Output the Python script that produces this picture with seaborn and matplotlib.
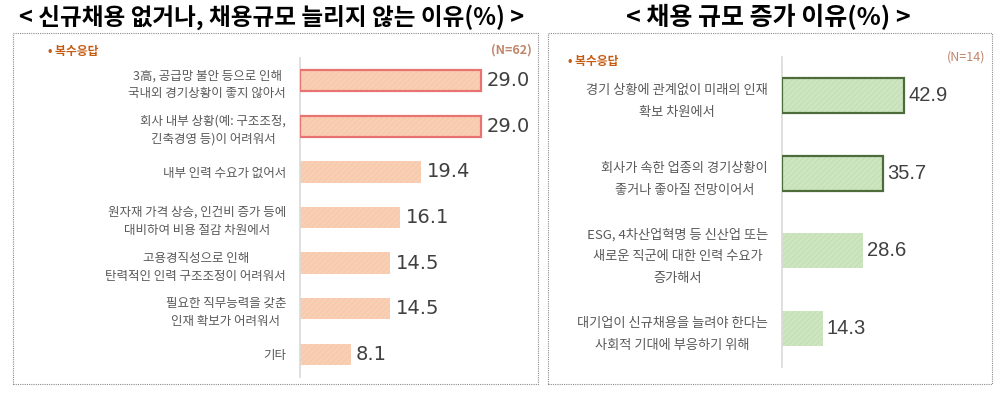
import matplotlib
matplotlib.use("Agg")
import matplotlib.pyplot as plt
import pandas as pd
import seaborn as sns
from matplotlib.patches import Rectangle

# left chart: 신규채용 없거나, 채용규모 늘리지 않는 이유
left_labels = [
    "3高, 공급망 불안 등으로 인해\n국내외 경기상황이 좋지 않아서",
    "회사 내부 상황(예: 구조조정,\n긴축경영 등)이 어려워서",
    "내부 인력 수요가 없어서",
    "원자재 가격 상승, 인건비 증가 등에\n대비하여 비용 절감 차원에서",
    "고용경직성으로 인해\n탄력적인 인력 구조조정이 어려워서",
    "필요한 직무능력을 갖춘\n인재 확보가 어려워서",
    "기타",
]
left_values = [29.0, 29.0, 19.4, 16.1, 14.5, 14.5, 8.1]
left_highlight = [True, True, False, False, False, False, False]

# right chart: 채용 규모 증가 이유
right_labels = [
    "경기 상황에 관계없이 미래의 인재\n확보 차원에서",
    "회사가 속한 업종의 경기상황이\n좋거나 좋아질 전망이어서",
    "ESG, 4차산업혁명 등 신산업 또는\n새로운 직군에 대한 인력 수요가\n증가해서",
    "대기업이 신규채용을 늘려야 한다는\n사회적 기대에 부응하기 위해",
]
right_values = [42.9, 35.7, 28.6, 14.3]
right_highlight = [True, True, False, False]

sns.set_style("white")
plt.rcParams['font.family'] = ['Noto Sans CJK KR', 'DejaVu Sans']
plt.rcParams['hatch.linewidth'] = 0.6

fig = plt.figure(figsize=(10, 3.94), dpi=100)
W, H = 1000, 394


def box(x0, y0, x1, y1):
    # dotted frame around each panel, in pixel coords from the top
    fig.patches.append(Rectangle((x0 / W, 1 - y1 / H), (x1 - x0) / W, (y1 - y0) / H,
                                 transform=fig.transFigure, fill=False,
                                 edgecolor='#8c8c8c', linestyle=(0, (1, 1)), linewidth=0.8))


def draw_panel(ax, labels, values, highlight, fill, hatch_col, edge, bar_h,
               xmax, label_size, linespacing, value_font, value_size, pad):
    df = pd.DataFrame({'label': labels, 'value': values})
    sns.barplot(data=df, x='value', y='label', orient='h', color=fill,
                width=bar_h, saturation=1, ax=ax)
    for patch, hl in zip(ax.patches, highlight):
        patch.set_hatch('//////')
        patch.set_edgecolor(hatch_col)
        patch.set_linewidth(0)
        if hl:
            ax.add_patch(Rectangle(patch.get_xy(), patch.get_width(), patch.get_height(),
                                   fill=False, edgecolor=edge, linewidth=1.6, zorder=3))
    ax.bar_label(ax.containers[0], fmt='%.1f', padding=pad, fontsize=value_size,
                 color='#404040', family=value_font)
    ax.set_xlim(0, xmax)
    ax.set_xlabel('')
    ax.set_ylabel('')
    ax.set_xticks([])
    for s in ['top', 'right', 'bottom']:
        ax.spines[s].set_visible(False)
    ax.spines['left'].set_color('#d9d9d9')
    ax.spines['left'].set_linewidth(1.2)
    ax.tick_params(axis='y', length=0, pad=10)
    for t in ax.get_yticklabels():
        t.set_multialignment('center')
        t.set_fontsize(label_size)
        t.set_color('#595959')
        t.set_linespacing(linespacing)


# left panel
box(13, 33, 538, 384)
axl = fig.add_axes([300 / W, 1 - 377 / H, 235 / W, 319 / H])
draw_panel(axl, left_labels, left_values, left_highlight,
           fill='#f9cfb4', hatch_col='#f6c6a9', edge='#e87472', bar_h=0.47,
           xmax=235 / 6.24, label_size=9, linespacing=1.5,
           value_font='DejaVu Sans', value_size=14, pad=4)
fig.text(272 / W, 1 - 17 / H, "< 신규채용 없거나, 채용규모 늘리지 않는 이유(%) >",
         ha='center', va='center', fontsize=17, fontweight='bold', color='black')
fig.text(48 / W, 1 - 52 / H, "• 복수응답", ha='left', va='center', fontsize=8.5,
         fontweight='bold', color='#c55a11')
fig.text(532 / W, 1 - 50 / H, "(N=62)", ha='right', va='center', fontsize=9,
         fontweight='bold', color='#c0866b')

# right panel
box(548, 33, 992, 384)
axr = fig.add_axes([782 / W, 1 - 367 / H, 208 / W, 310 / H])
draw_panel(axr, right_labels, right_values, right_highlight,
           fill='#cde6c0', hatch_col='#c0ddb2', edge='#4e6b3c', bar_h=0.45,
           xmax=208 / 2.84, label_size=9.5, linespacing=1.9,
           value_font='Liberation Sans', value_size=14.5, pad=3)
fig.text(768 / W, 1 - 17 / H, "< 채용 규모 증가 이유(%) >",
         ha='center', va='center', fontsize=18, fontweight='bold', color='black')
fig.text(568 / W, 1 - 61 / H, "• 복수응답", ha='left', va='center', fontsize=8.5,
         fontweight='bold', color='#c55a11')
fig.text(985 / W, 1 - 57 / H, "(N=14)", ha='right', va='center', fontsize=9,
         color='#c0866b')

fig.savefig('out.png', dpi=100, facecolor='white')
